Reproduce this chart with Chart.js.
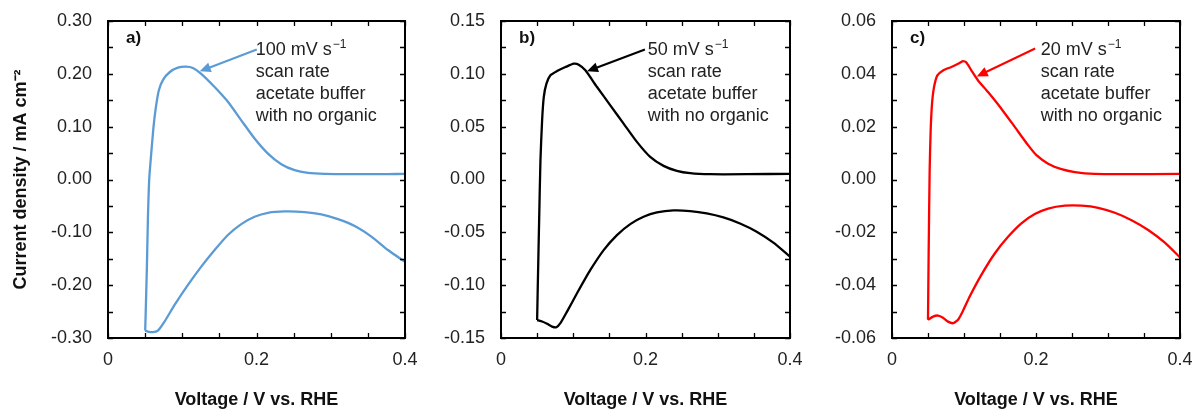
<!DOCTYPE html>
<html>
<head>
<meta charset="utf-8">
<script src="https://cdn.jsdelivr.net/npm/chart.js@4.4.1/dist/chart.umd.min.js"></script>
<style>
  body { margin: 0; background: #fff; width: 1193px; height: 409px; overflow: hidden; position: relative; }
  .panel { position: absolute; top: 0; height: 409px; }
</style>
</head>
<body>
<div class="panel" style="left:0px;width:418px"><canvas id="chartA" width="418" height="409"></canvas></div>
<div class="panel" style="left:418px;width:385px"><canvas id="chartB" width="385" height="409"></canvas></div>
<div class="panel" style="left:803px;width:390px"><canvas id="chartC" width="390" height="409"></canvas></div>
<script>
// ---- data (V vs RHE, mA cm-2) ----
// a) 100 mV/s
var voltageA_fwd = [0.0501, 0.0523, 0.0537, 0.0555, 0.0582, 0.0613, 0.0645, 0.0685, 0.0743, 0.0829, 0.0941, 0.1050, 0.1143, 0.1256, 0.1436, 0.1615, 0.1795, 0.1974, 0.2154, 0.2334, 0.2514, 0.2693, 0.2918, 0.3322, 0.3771, 0.4000];
var currentA_fwd = [-0.286, -0.171, -0.077, 0.000, 0.049, 0.0995, 0.137, 0.169, 0.189, 0.203, 0.2116, 0.2135, 0.211, 0.200, 0.175, 0.147, 0.112, 0.0775, 0.049, 0.029, 0.0176, 0.0126, 0.0107, 0.0101, 0.0101, 0.0107];
var voltageA_rev = [0.4000, 0.3771, 0.3547, 0.3322, 0.3097, 0.2873, 0.2648, 0.2378, 0.2154, 0.1974, 0.1795, 0.1615, 0.1436, 0.1256, 0.1077, 0.0897, 0.0761, 0.0672, 0.0604, 0.0537, 0.0501];
var currentA_rev = [-0.156, -0.1335, -0.108, -0.088, -0.075, -0.066, -0.0617, -0.0605, -0.063, -0.0705, -0.0844, -0.105, -0.1335, -0.165, -0.1996, -0.2374, -0.269, -0.286, -0.289, -0.288, -0.286];

// b) 50 mV/s
var voltageB_fwd = [0.0500, 0.0509, 0.0528, 0.0546, 0.0569, 0.0592, 0.0629, 0.0684, 0.0776, 0.0892, 0.1007, 0.1076, 0.1168, 0.1329, 0.1513, 0.1697, 0.1881, 0.2065, 0.2250, 0.2434, 0.2618, 0.2894, 0.3401, 0.4000];
var currentB_fwd = [-0.133, -0.101, -0.0384, 0.0183, 0.056, 0.078, 0.0907, 0.0986, 0.1026, 0.1064, 0.1096, 0.1086, 0.1033, 0.0875, 0.0702, 0.0529, 0.0356, 0.0214, 0.0129, 0.0082, 0.006, 0.005, 0.005, 0.0054];
var voltageB_rev = [0.4000, 0.3770, 0.3539, 0.3308, 0.3078, 0.2848, 0.2618, 0.2388, 0.2158, 0.1973, 0.1789, 0.1605, 0.1421, 0.1237, 0.1052, 0.0914, 0.0822, 0.0767, 0.0707, 0.0638, 0.0569, 0.0500];
var currentB_rev = [-0.073, -0.0598, -0.0494, -0.0416, -0.0359, -0.0321, -0.0299, -0.0293, -0.0312, -0.0353, -0.0422, -0.0526, -0.0668, -0.0856, -0.1077, -0.125, -0.136, -0.1398, -0.1392, -0.1366, -0.1344, -0.133];

// c) 20 mV/s
var voltageC_fwd = [0.0500, 0.0509, 0.0523, 0.0537, 0.0556, 0.0584, 0.0630, 0.0709, 0.0825, 0.0918, 0.0986, 0.1033, 0.1102, 0.1195, 0.1334, 0.1519, 0.1705, 0.1890, 0.2006, 0.2168, 0.2354, 0.2539, 0.2817, 0.3188, 0.4000];
var currentC_fwd = [-0.0531, -0.028, 0.0035, 0.0186, 0.0287, 0.035, 0.0394, 0.0413, 0.0426, 0.0438, 0.0448, 0.0443, 0.0413, 0.0375, 0.0331, 0.0268, 0.0199, 0.013, 0.0092, 0.006, 0.0039, 0.0028, 0.0021, 0.002, 0.0021];
var voltageC_rev = [0.4000, 0.3790, 0.3558, 0.3327, 0.3095, 0.2864, 0.2632, 0.2401, 0.2168, 0.1983, 0.1797, 0.1612, 0.1427, 0.1241, 0.1079, 0.0986, 0.0917, 0.0847, 0.0778, 0.0708, 0.0639, 0.0570, 0.0500];
var currentC_rev = [-0.0295, -0.0239, -0.0191, -0.0154, -0.0126, -0.0107, -0.0099, -0.0099, -0.011, -0.0131, -0.0166, -0.0217, -0.028, -0.0361, -0.0443, -0.0497, -0.0531, -0.0544, -0.0538, -0.0523, -0.0515, -0.0519, -0.0531];

// axes
var xTickLabels = ['0', '0.2', '0.4'];
var yRangeA = [-0.30, 0.30], yRangeB = [-0.15, 0.15], yRangeC = [-0.06, 0.06];
var noteLines = ['scan rate', 'acetate buffer', 'with no organic'];

Chart.defaults.font.family = '"Liberation Sans", Arial, sans-serif';
Chart.defaults.font.size = 18;
Chart.defaults.color = '#222';

function pts(xs, ys) {
  var out = [];
  for (var i = 0; i < xs.length; i++) out.push({x: xs[i], y: ys[i]});
  return out;
}

// box, inward ticks, panel letter, arrow + note
var framePlugin = {
  id: 'frame',
  afterDraw: function(chart, args, opts) {
    var ctx = chart.ctx, ca = chart.chartArea, x = chart.scales.x, y = chart.scales.y;
    ctx.save();
    ctx.strokeStyle = '#000';
    ctx.lineWidth = 1.3;
    ctx.beginPath();
    x.ticks.forEach(function(t) {
      var px = Math.round(x.getPixelForValue(t.value)) + 0.5;
      ctx.moveTo(px, ca.bottom); ctx.lineTo(px, ca.bottom - 5);
      ctx.moveTo(px, ca.top); ctx.lineTo(px, ca.top + 5);
    });
    y.ticks.forEach(function(t) {
      var py = Math.round(y.getPixelForValue(t.value)) + 0.5;
      ctx.moveTo(ca.left, py); ctx.lineTo(ca.left + 5, py);
      ctx.moveTo(ca.right, py); ctx.lineTo(ca.right - 5, py);
    });
    ctx.stroke();
    ctx.lineWidth = 2;
    ctx.strokeRect(ca.left, ca.top, ca.right - ca.left, ca.bottom - ca.top);

    ctx.fillStyle = '#111';
    ctx.textBaseline = 'alphabetic';
    ctx.textAlign = 'left';
    ctx.font = 'bold 17px "Liberation Sans", Arial, sans-serif';
    ctx.fillText(opts.label, ca.left + 18, ca.top + 22);

    // arrow
    var tx = x.getPixelForValue(opts.tail[0]), ty = y.getPixelForValue(opts.tail[1]);
    var hx = x.getPixelForValue(opts.tip[0]), hy = y.getPixelForValue(opts.tip[1]);
    var ang = Math.atan2(hy - ty, hx - tx);
    ctx.strokeStyle = opts.color;
    ctx.fillStyle = opts.color;
    ctx.lineWidth = 2;
    ctx.beginPath();
    ctx.moveTo(tx, ty);
    ctx.lineTo(hx - 8 * Math.cos(ang), hy - 8 * Math.sin(ang));
    ctx.stroke();
    ctx.beginPath();
    ctx.moveTo(hx, hy);
    ctx.lineTo(hx - 11 * Math.cos(ang) + 5 * Math.sin(ang), hy - 11 * Math.sin(ang) - 5 * Math.cos(ang));
    ctx.lineTo(hx - 11 * Math.cos(ang) - 5 * Math.sin(ang), hy - 11 * Math.sin(ang) + 5 * Math.cos(ang));
    ctx.closePath();
    ctx.fill();

    // note text
    var nx = x.getPixelForValue(opts.textAt[0]), ny = y.getPixelForValue(opts.textAt[1]);
    ctx.fillStyle = '#222';
    ctx.font = '18px "Liberation Sans", Arial, sans-serif';
    var first = opts.rate + ' mV s';
    ctx.fillText(first, nx, ny);
    var w = ctx.measureText(first).width;
    ctx.font = '12px "Liberation Sans", Arial, sans-serif';
    ctx.fillText('\u22121', nx + w + 1, ny - 7);
    ctx.font = '18px "Liberation Sans", Arial, sans-serif';
    noteLines.forEach(function(s, i) { ctx.fillText(s, nx, ny + 22 * (i + 1)); });
    ctx.restore();
  }
};

function makePanel(id, fwd, rev, color, yRange, step, major, yWidth, padRight, showYTitle, note) {
  new Chart(document.getElementById(id), {
    type: 'scatter',
    data: {
      datasets: [
        {data: fwd, showLine: true, borderColor: color, borderWidth: 2.3, pointRadius: 0, tension: 0.2, fill: false},
        {data: rev, showLine: true, borderColor: color, borderWidth: 2.3, pointRadius: 0, tension: 0.2, fill: false}
      ]
    },
    options: {
      responsive: false,
      animation: false,
      devicePixelRatio: 1,
      layout: {padding: {top: 21, right: padRight, bottom: 0, left: 0}},
      plugins: {legend: {display: false}, tooltip: {enabled: false}, frame: note},
      scales: {
        x: {
          type: 'linear', min: 0, max: 0.4,
          grid: {display: false, drawTicks: false},
          border: {display: false},
          ticks: {
            stepSize: 0.05, autoSkip: false, maxRotation: 0, padding: 11, maxTicksLimit: 100,
            callback: function(v) {
              var k = v / 0.2;
              return Math.abs(k - Math.round(k)) < 1e-6 ? xTickLabels[Math.round(k)] : '';
            }
          },
          title: {display: true, text: 'Voltage / V vs. RHE', font: {weight: 'bold', size: 18, lineHeight: 1}, color: '#111', padding: 0},
          afterFit: function(s) { s.height = 71; s.paddingLeft = 0; s.paddingRight = 0; }
        },
        y: {
          type: 'linear', min: yRange[0], max: yRange[1],
          grid: {display: false, drawTicks: false},
          border: {display: false},
          ticks: {
            stepSize: step, autoSkip: false, padding: 16, maxTicksLimit: 100,
            callback: function(v) {
              var k = v / major;
              if (Math.abs(k - Math.round(k)) > 1e-6) return '';
              if (Math.abs(v) < 1e-9) v = 0;
              return v.toFixed(2);
            }
          },
          title: {display: showYTitle, text: 'Current density / mA cm\u207B\u00B2', font: {weight: 'bold', size: 18, lineHeight: 1}, color: '#111', padding: {top: 12, bottom: 0}},
          afterFit: function(s) { s.width = yWidth; s.paddingTop = 0; s.paddingBottom = 0; }
        }
      }
    },
    plugins: [framePlugin]
  });
}

makePanel('chartA', pts(voltageA_fwd, currentA_fwd), pts(voltageA_rev, currentA_rev), '#5B9BD5',
  yRangeA, 0.05, 0.1, 108, 13, true,
  {label: 'a)', rate: '100', color: '#5B9BD5', textAt: [0.199, 0.235], tail: [0.2004, 0.246], tip: [0.1235, 0.2047]});
makePanel('chartB', pts(voltageB_fwd, currentB_fwd), pts(voltageB_rev, currentB_rev), '#000000',
  yRangeB, 0.025, 0.05, 83, 13, false,
  {label: 'b)', rate: '50', color: '#000000', textAt: [0.203, 0.1175], tail: [0.1992, 0.123], tip: [0.119, 0.1024]});
makePanel('chartC', pts(voltageC_fwd, currentC_fwd), pts(voltageC_rev, currentC_rev), '#FF0000',
  yRangeC, 0.01, 0.02, 89, 13, false,
  {label: 'c)', rate: '20', color: '#FF0000', textAt: [0.2067, 0.047], tail: [0.1988, 0.0496], tip: [0.1177, 0.039]});
</script>
</body>
</html>
